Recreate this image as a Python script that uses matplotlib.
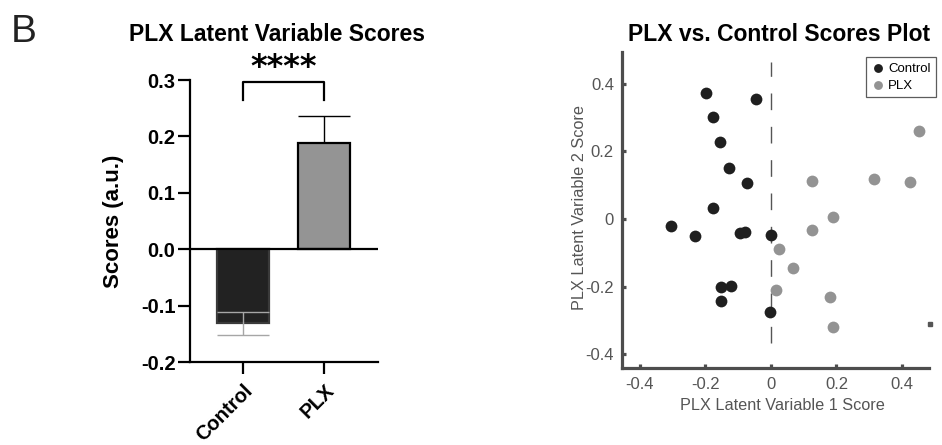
import matplotlib.pyplot as plt
import numpy as np

plt.rcParams['font.family'] = ['Liberation Sans', 'DejaVu Sans']

# bar panel: group means and SEM
groups = ['Control', 'PLX']
means = [-0.130, 0.189]
sem_low = [0.021, 0.0]
sem_high = [0.019, 0.047]

# scatter panel: latent variable scores per animal
ctrl_lv1 = [-0.199, -0.046, -0.176, -0.155, -0.127, -0.073, -0.177, -0.303,
            -0.231, -0.094, -0.078, 0.001, -0.153, -0.123, -0.152, -0.002]
ctrl_lv2 = [0.371, 0.355, 0.300, 0.227, 0.151, 0.105, 0.033, -0.020,
            -0.050, -0.041, -0.037, -0.046, -0.202, -0.199, -0.242, -0.276]
plx_lv1 = [0.453, 0.125, 0.315, 0.423, 0.188, 0.125, 0.024, 0.068, 0.016, 0.180, 0.188]
plx_lv2 = [0.261, 0.111, 0.118, 0.109, 0.006, -0.034, -0.090, -0.146, -0.210, -0.231, -0.318]

W, H = 942, 445
fig = plt.figure(figsize=(W / 100, H / 100), dpi=100)


def px(x, y):
    return x / W, 1 - y / H


# ---------------- left: bar chart ----------------
ax1 = fig.add_axes([190 / W, 1 - 362.3 / H, 188.3 / W, 282.3 / H])
xpos = np.arange(len(groups))
ax1.bar(xpos, means, width=0.64, color=['#222222', '#949494'],
        edgecolor=['#3a3a3a', 'black'], linewidth=1.6, zorder=2)
ax1.errorbar(xpos[0], means[0], yerr=[[sem_low[0]], [sem_high[0]]], fmt='none',
             ecolor='#a6a6a6', elinewidth=1, capsize=19, capthick=1, zorder=3)
ax1.errorbar(xpos[1], means[1], yerr=[[sem_low[1]], [sem_high[1]]], fmt='none',
             ecolor='black', elinewidth=1, capsize=19, capthick=1, zorder=1)
ax1.axhline(0, color='black', lw=1.6, zorder=4)

ax1.set_xlim(-0.658, 1.667)
ax1.set_ylim(-0.2, 0.3)
ax1.set_yticks([-0.2, -0.1, 0.0, 0.1, 0.2, 0.3])
ax1.set_yticklabels(['-0.2', '-0.1', '0.0', '0.1', '0.2', '0.3'])
ax1.set_xticks(xpos)
ax1.set_xticklabels(groups, rotation=45, ha='right', va='top', rotation_mode='anchor')
for s in ['top', 'right']:
    ax1.spines[s].set_visible(False)
for s in ['left', 'bottom']:
    ax1.spines[s].set_linewidth(1.6)
ax1.tick_params(direction='out', length=8.5, width=1.6, labelsize=14.5, pad=2)
ax1.tick_params(axis='x', pad=5)
for lab in ax1.get_xticklabels() + ax1.get_yticklabels():
    lab.set_fontweight('bold')

# significance bracket
ax1.plot([0, 0, 1, 1], [0.265, 0.297, 0.297, 0.265], color='black', lw=1.6,
         clip_on=False)
ax1.text(0.5, 0.307, '****', ha='center', va='baseline', fontsize=23,
         fontweight='bold', family='DejaVu Sans')

fig.text(*px(113, 221.5), 'Scores (a.u.)', rotation=90, ha='center', va='center',
         fontsize=16, fontweight='bold')
fig.text(*px(276.7, 40.7), 'PLX Latent Variable Scores', ha='center', va='baseline',
         fontsize=16.5, fontweight='bold')
fig.text(*px(11, 42), 'B', ha='left', va='baseline', fontsize=28, color='#222222')

# ---------------- right: scatter ----------------
ax2 = fig.add_axes([622.3 / W, 1 - 368.3 / H, 307 / W, 316.6 / H])
ax2.plot([0, 0], [-0.366, 0.464], color='#555555', lw=1, dashes=(12, 12), zorder=1)
ax2.scatter(ctrl_lv1, ctrl_lv2, s=72, c='#1f1f1f', linewidths=0, label='Control', zorder=3)
ax2.scatter(plx_lv1, plx_lv2, s=72, c='#939393', linewidths=0, label='PLX', zorder=3)
ax2.plot([0.486], [-0.311], 's', ms=2.5, color='#555555', clip_on=False)

ax2.set_xlim(-0.453, 0.483)
ax2.set_ylim(-0.441, 0.494)
ticks = [-0.4, -0.2, 0, 0.2, 0.4]
ticklabels = ['-0.4', '-0.2', '0', '0.2', '0.4']
ax2.set_xticks(ticks)
ax2.set_xticklabels(ticklabels)
ax2.set_yticks(ticks)
ax2.set_yticklabels(ticklabels)
for s in ['top', 'right']:
    ax2.spines[s].set_visible(False)
for s in ['left', 'bottom']:
    ax2.spines[s].set_linewidth(2.3)
    ax2.spines[s].set_color('#4d4d4d')
ax2.tick_params(direction='in', length=3, width=2.3, color='#4d4d4d',
                labelcolor='#555555', labelsize=12, pad=6)

leg = ax2.legend(loc='upper right', bbox_to_anchor=px(936, 56.7),
                 bbox_transform=fig.transFigure, fontsize=9.5, frameon=True,
                 fancybox=False, borderaxespad=0, handletextpad=0.2,
                 markerscale=0.75, borderpad=0.4, labelspacing=0.3,
                 handlelength=1.1, handleheight=0.9)
leg.get_frame().set_edgecolor('#333333')
leg.get_frame().set_linewidth(0.9)

fig.text(*px(580, 207), 'PLX Latent Variable 2 Score', rotation=90, ha='center',
         va='center', fontsize=11.7, color='#555555')
fig.text(*px(782.5, 405), 'PLX Latent Variable 1 Score', ha='center', va='center',
         fontsize=11.7, color='#555555')
fig.text(*px(779.5, 40.7), 'PLX vs. Control Scores Plot', ha='center', va='baseline',
         fontsize=16.5, fontweight='bold')

fig.savefig('out.png', dpi=100)
